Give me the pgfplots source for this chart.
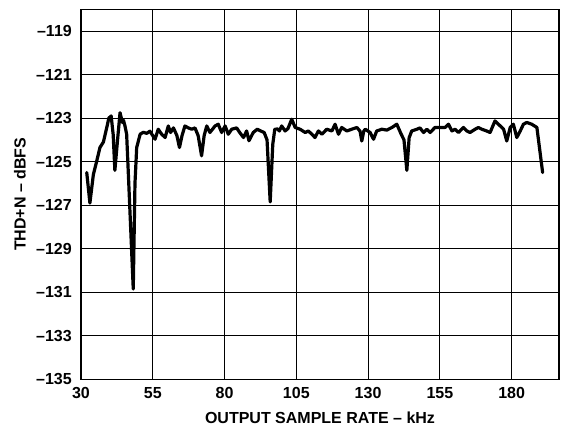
\documentclass[border=0pt]{standalone}
\usepackage{fontspec}
\setmainfont{Liberation Sans}
\usepackage{pgfplots}
\pgfplotsset{compat=1.18}
\pgfplotstableread{
x y
32.0 -125.5
33.1 -126.9
34.3 -125.6
35.5 -124.96
36.6 -124.35
37.8 -124.1
39.1 -123.36
39.7 -123.0
40.5 -122.9
41.2 -123.74
41.8 -125.4
42.7 -124.05
43.6 -122.75
44.4 -123.2
44.8 -123.1
45.3 -123.35
45.9 -123.74
46.8 -126.5
48.2 -130.85
48.8 -126.0
49.4 -124.35
50.6 -123.74
51.7 -123.65
52.9 -123.7
54.0 -123.6
55.8 -123.97
56.9 -123.51
58.1 -123.74
59.3 -123.89
60.4 -123.36
61.2 -123.66
62.2 -123.45
63.4 -123.8
64.3 -124.35
65.2 -123.8
66.2 -123.36
67.4 -123.45
68.6 -123.51
69.7 -123.45
70.8 -123.8
72.0 -124.73
72.9 -123.8
73.8 -123.36
74.9 -123.66
76.7 -123.36
77.8 -123.28
79.0 -123.66
80.2 -123.36
81.3 -123.74
82.5 -123.51
84.2 -123.45
85.5 -123.7
86.6 -123.89
87.7 -123.59
88.5 -124.04
90.0 -123.66
91.4 -123.51
92.6 -123.59
93.8 -123.66
94.8 -124.0
95.9 -126.85
96.8 -124.2
97.5 -123.51
98.5 -123.5
99.1 -123.59
99.9 -123.36
101.1 -123.59
102.1 -123.48
103.4 -123.05
104.6 -123.43
106.3 -123.51
108.1 -123.66
109.2 -123.59
110.4 -123.74
111.5 -123.89
112.7 -123.59
113.9 -123.74
115.6 -123.51
117.4 -123.59
118.5 -123.28
119.7 -123.74
120.8 -123.43
122.6 -123.59
124.3 -123.51
126.1 -123.43
127.2 -123.6
127.8 -124.05
128.5 -123.6
129.0 -123.51
130.7 -123.66
131.9 -123.97
133.0 -123.59
134.8 -123.51
136.5 -123.55
138.3 -123.43
140.0 -123.28
141.4 -123.7
142.5 -124.0
143.5 -125.4
144.3 -123.9
145.2 -123.59
147.0 -123.51
148.1 -123.45
149.3 -123.66
150.5 -123.51
151.6 -123.66
153.3 -123.43
155.1 -123.43
156.8 -123.43
158.0 -123.28
159.2 -123.59
160.3 -123.51
161.5 -123.66
163.2 -123.43
164.4 -123.59
165.5 -123.66
167.3 -123.51
168.4 -123.43
169.6 -123.51
171.3 -123.59
172.5 -123.66
174.2 -123.13
175.4 -123.28
177.2 -123.51
178.3 -124.05
179.5 -123.43
180.6 -123.28
181.8 -123.89
183.0 -123.59
184.1 -123.28
185.3 -123.2
187.0 -123.28
188.8 -123.43
190.8 -125.5
}\datatable
\begin{document}
\begin{tikzpicture}[font=\fontsize{16}{19}\selectfont\bfseries]
\useasboundingbox (-81pt,-50pt) rectangle (487pt,379.3pt);
\begin{axis}[at={(0,0)}, anchor=south west, scale only axis,
  width=478pt, height=370pt,
  xmin=30, xmax=196.5, ymin=-135, ymax=-118,
  xtick={30,55,80,105,130,155,180},
  xticklabels={30,55,80,105,130,155,180},
  ytick={-135,-133,-131,-129,-127,-125,-123,-121,-119},
  yticklabels={–135,–133,–131,–129,–127,–125,–123,–121,–119},
  grid=major, grid style={black, line width=0.9pt},
  axis line style={black, line width=1.5pt},
  major tick length=0pt,
  xticklabel style={anchor=center, inner sep=0pt, yshift=-14pt},
  yticklabel style={anchor=east, inner sep=0pt, xshift=-9pt},
  xlabel={OUTPUT SAMPLE RATE – kHz},
  ylabel={THD+N – dBFS},
  x label style={at={(axis description cs:0.5,-0.1027)}, anchor=center},
  y label style={at={(axis description cs:-0.1276,0.5)}, anchor=center, rotate=0},
]
\addplot[black, line width=3.2pt, line join=round, line cap=round] table[x=x,y=y] {\datatable};
\end{axis}
\end{tikzpicture}
\end{document}
